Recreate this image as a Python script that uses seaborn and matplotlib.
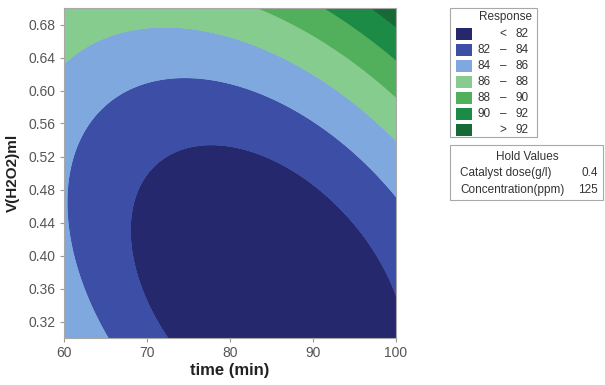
import numpy as np
import matplotlib
matplotlib.use("Agg")
import matplotlib.pyplot as plt
from matplotlib.patches import Rectangle
import seaborn as sns

# Response contour positions (time in min, V(H2O2) in ml) for each boundary level
level_82_time = [72.4, 69.2, 68.8, 70.0, 72.8, 76.4, 82.4, 88.4, 93.3, 95.7, 99.9]
level_82_volume = [0.300, 0.370, 0.443, 0.500, 0.524, 0.534, 0.528, 0.495, 0.459, 0.431, 0.346]
level_84_time = [65.5, 62.3, 60.5, 60.4, 61.6, 63.5, 67.6, 71.6, 75.5, 84.8, 88.8, 92.9, 96.0, 98.4, 99.9]
level_84_volume = [0.300, 0.358, 0.440, 0.471, 0.532, 0.564, 0.598, 0.610, 0.614, 0.588, 0.570, 0.544, 0.516, 0.488, 0.471]
level_86_time = [60.1, 63.5, 67.6, 71.6, 77.6, 84.8, 88.8, 92.9, 96.0, 98.4, 99.9]
level_86_volume = [0.633, 0.661, 0.671, 0.675, 0.670, 0.639, 0.625, 0.604, 0.580, 0.556, 0.536]
level_88_time = [82.8, 88.4, 92.0, 96.0, 98.4, 99.9]
level_88_volume = [0.700, 0.685, 0.649, 0.625, 0.609, 0.592]
level_90_time = [91.2, 94.5, 98.1, 99.9]
level_90_volume = [0.700, 0.685, 0.649, 0.633]
level_92_time = [96.5, 99.9]
level_92_volume = [0.700, 0.676]

levels = [82, 84, 86, 88, 90, 92]
band_labels = [("", "<", "82"), ("82", "–", "84"), ("84", "–", "86"), ("86", "–", "88"),
               ("88", "–", "90"), ("90", "–", "92"), ("", ">", "92")]
band_colors = ["#25286c", "#3c4ea6", "#7fa8de", "#86cc8e", "#52b05c", "#1c8b45", "#176a36"]
hold_names = ["Catalyst dose(g/l)", "Concentration(ppm)"]
hold_values = ["0.4", "125"]
time_ticks = [60, 70, 80, 90, 100]
volume_ticks = [0.32, 0.36, 0.40, 0.44, 0.48, 0.52, 0.56, 0.60, 0.64, 0.68]

sns.set_theme(style="white")
plt.rcParams["font.family"] = ["Liberation Sans", "DejaVu Sans"]


def coded(t, v):
    x = (np.asarray(t) - 80.0) / 20.0
    y = (np.asarray(v) - 0.5) / 0.2
    return np.stack([np.ones_like(x), x, y, x * x, y * y, x * y], axis=-1)


# second-order response surface through the contour positions
pts_t = np.concatenate([level_82_time, level_84_time, level_86_time,
                        level_88_time, level_90_time, level_92_time])
pts_v = np.concatenate([level_82_volume, level_84_volume, level_86_volume,
                        level_88_volume, level_90_volume, level_92_volume])
pts_r = np.concatenate([[lv] * len(ts) for lv, ts in zip(levels, [
    level_82_time, level_84_time, level_86_time, level_88_time, level_90_time, level_92_time])])
beta, *_ = np.linalg.lstsq(coded(pts_t, pts_v), pts_r, rcond=None)

tg, vg = np.meshgrid(np.linspace(60, 100, 401), np.linspace(0.30, 0.70, 401))
zg = coded(tg, vg) @ beta

W, H = 605, 385
fig = plt.figure(figsize=(W / 100, H / 100), dpi=100)
ax = fig.add_axes([64 / W, 1 - 338 / H, (396 - 64) / W, (338 - 8) / H])
bounds = [min(zg.min(), 80) - 1] + levels + [max(zg.max(), 94) + 1]
# drawn twice so the antialiased band edges leave no pale seams
for _ in range(2):
    ax.contourf(tg, vg, zg, levels=bounds, colors=band_colors, antialiased=True)
ax.set_xlim(60, 100)
ax.set_ylim(0.30, 0.70)
ax.set_xticks(time_ticks)
ax.set_yticks(volume_ticks)
ax.set_yticklabels([f"{v:.2f}" for v in volume_ticks])
ax.tick_params(axis="both", which="major", direction="out", length=3, width=0.8,
               color="#9a9a9a", labelsize=10, labelcolor="#555555", pad=3,
               bottom=True, left=True)
for s in ax.spines.values():
    s.set_color("#a8a8a8")
    s.set_linewidth(0.8)
ax.set_xlabel("time (min)", fontsize=12, fontweight="bold", color="#222222", labelpad=2)
ax.set_ylabel("V(H2O2)ml", fontsize=11, fontweight="bold", color="#222222", labelpad=6)


def px(x, y):
    return x / W, 1 - y / H


TXT = dict(fontsize=8.5, color="#333333", va="center")

# Response key
fig.patches.append(Rectangle(px(450, 137), 87 / W, 129 / H, transform=fig.transFigure,
                             fill=False, edgecolor="#a8a8a8", linewidth=0.8))
fig.text(*px(506, 17), "Response", ha="center", **TXT)
for i, ((lo, sym, hi), col) in enumerate(zip(band_labels, band_colors)):
    yc = 34 + i * 16
    fig.patches.append(Rectangle(px(456, yc + 6), 16 / W, 12 / H, transform=fig.transFigure,
                                 facecolor=col, edgecolor="none"))
    if lo:
        fig.text(*px(478, yc), lo, ha="left", **TXT)
    fig.text(*px(503, yc), sym, ha="center", **TXT)
    fig.text(*px(516, yc), hi, ha="left", **TXT)

# Hold values table
fig.patches.append(Rectangle(px(450, 200), 153 / W, 55 / H, transform=fig.transFigure,
                             fill=False, edgecolor="#a8a8a8", linewidth=0.8))
fig.text(*px(527, 157), "Hold Values", ha="center", **TXT)
for i, (name, val) in enumerate(zip(hold_names, hold_values)):
    yc = 173 + i * 17
    fig.text(*px(460, yc), name, ha="left", **TXT)
    fig.text(*px(598, yc), val, ha="right", **TXT)

fig.savefig("out.png", dpi=100)
